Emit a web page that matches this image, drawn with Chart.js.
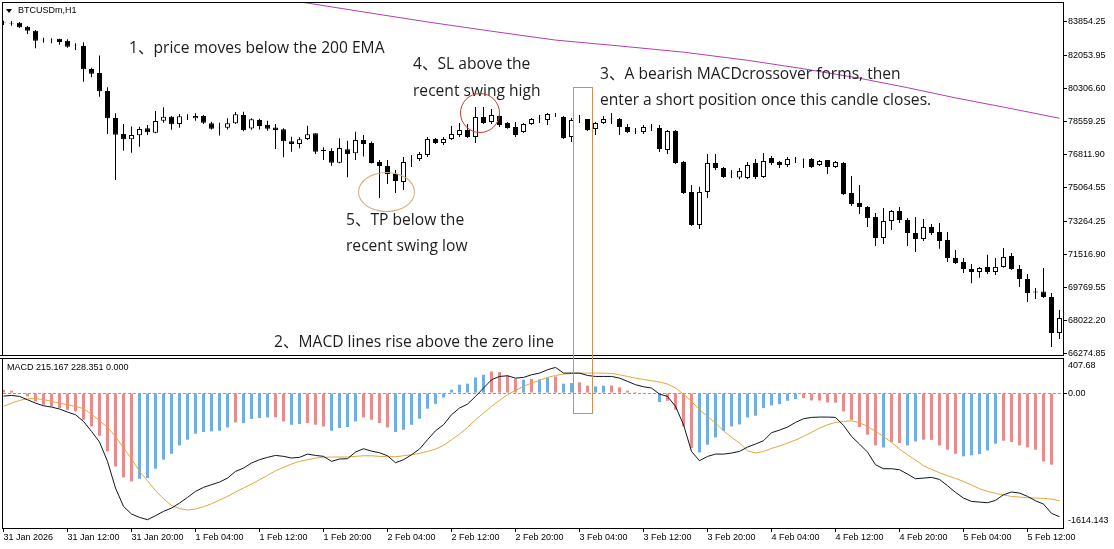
<!DOCTYPE html>
<html>
<head>
<meta charset="utf-8">
<script src="https://cdn.jsdelivr.net/npm/chart.js@4.4.1/dist/chart.umd.min.js"></script>
<style>
  body { margin: 0; background: #fff; width: 1114px; height: 549px; overflow: hidden; position: relative; }
  canvas { position: absolute; left: 0; }
  #price { top: 0; }
  #macd { top: 357px; }
  .note { position: absolute; font-family: "Open Sans", "Noto Sans CJK SC", sans-serif; font-size: 15.6px; line-height: 20px; color: #1c1c1c; white-space: nowrap; }
  .small { position: absolute; font-family: "Liberation Sans", Arial, sans-serif; font-size: 9px; line-height: 11px; color: #000; white-space: nowrap; }
  .shape { position: absolute; box-sizing: border-box; }
  #tri { position: absolute; left: 6px; top: 9px; width: 0; height: 0; border-left: 3px solid transparent; border-right: 3px solid transparent; border-top: 4px solid #000; }
</style>
</head>
<body>
<canvas id="price" width="1114" height="362"></canvas>
<canvas id="macd" width="1114" height="192"></canvas>

<div id="tri"></div>
<div class="small" style="left:18px;top:5px">BTCUSDm,H1</div>
<div class="small" style="left:7px;top:362px">MACD 215.167 228.351 0.000</div>

<div class="note" style="left:129px;top:37px">1、price moves below the 200 EMA</div>
<div class="note" style="left:413px;top:53px">4、SL above the</div>
<div class="note" style="left:413px;top:80px">recent swing high</div>
<div class="note" style="left:600px;top:63px">3、A bearish MACDcrossover forms, then</div>
<div class="note" style="left:600px;top:89px">enter a short position once this candle closes.</div>
<div class="note" style="left:346px;top:209px">5、TP below the</div>
<div class="note" style="left:346px;top:235px">recent swing low</div>
<div class="note" style="left:274px;top:331px">2、MACD lines rise above the zero line</div>

<div class="shape" style="left:460px;top:93px;width:40px;height:40px;border:1px solid #c83c32;border-radius:50%"></div>
<div class="shape" style="left:358px;top:172px;width:57px;height:40px;border:1px solid #d9a878;border-radius:50%"></div>
<div class="shape" style="left:573px;top:87px;width:20px;height:327px;border:1px solid #d48c50"></div>

<script>
// x axis: one H1 bar per step, bar 0 = 31 Jan 04:00
const timeTicks = ['31 Jan 2026', '31 Jan 12:00', '31 Jan 20:00', '1 Feb 04:00', '1 Feb 12:00', '1 Feb 20:00',
  '2 Feb 04:00', '2 Feb 12:00', '2 Feb 20:00', '3 Feb 04:00', '3 Feb 12:00', '3 Feb 20:00',
  '4 Feb 04:00', '4 Feb 12:00', '4 Feb 20:00', '5 Feb 04:00', '5 Feb 12:00'];
const priceTicks = [83854.25, 82053.95, 80306.60, 78559.25, 76811.90, 75064.55, 73264.25, 71516.90, 69769.55, 68022.20, 66274.85];
const macdTicks = ['407.68', '0.00', '-1614.143'];

const opens = [83800, 83770, 83790, 83579, 83367, 82885, 82900, 82944, 82838, 82580, 82557, 81340, 81128, 80175, 78745, 77900, 77617, 77830, 78199, 77966,
  78603, 78814, 78430, 78790, 78730, 78850, 78460, 78255, 78226, 78460, 78904, 78190, 78639, 78390, 78235, 78145, 77510, 77370, 77635, 77935,
  77050, 76995, 76380, 77085, 76875, 77580, 77420, 76410, 76200, 75780, 75355, 76510, 76575, 76786, 77633, 77420, 77633, 77845, 78110, 77740,
  78800, 78535, 78850, 78480, 78270, 78000, 78430, 78735, 78639, 78900, 78800, 77740, 78740, 78690, 78160, 78480, 78680, 78690, 78270, 78010,
  78000, 78260, 78215, 77050, 78055, 76410, 74830, 73080, 74830, 76360, 76100, 75825, 75600, 75570, 76360, 75620, 76630, 76410, 76257, 76570,
  76580, 76575, 76257, 76520, 76150, 76360, 74775, 74245, 74030, 73500, 72390, 73290, 73820, 73345, 72660, 72340, 72975, 72710, 72280, 71330,
  71120, 70750, 70590, 70860, 70590, 70860, 71440, 70750, 70220, 69500, 69560, 69270, 67360];
const highs = [83897, 83881, 83828, 83616, 83404, 82996, 82965, 82944, 82910, 82700, 82756, 81410, 82060, 80370, 78993, 78428, 78296, 78287, 78375, 79116,
  79311, 78850, 78957, 78940, 78993, 78904, 78549, 78490, 78725, 79063, 79080, 78725, 78710, 78600, 78428, 78200, 77757, 77720, 78340, 77935,
  77190, 77140, 77668, 77540, 78020, 77845, 77500, 76522, 76522, 75990, 76680, 76786, 76945, 77740, 77685, 77740, 78320, 78480, 78430, 79327,
  79327, 79220, 78904, 78535, 78535, 78480, 78745, 78904, 79010, 79010, 78850, 78745, 78904, 78690, 78535, 78850, 79010, 78745, 78430, 78215,
  78375, 78430, 78375, 78110, 78110, 76470, 75200, 75100, 76840, 76840, 76150, 75990, 76100, 76420, 76570, 76890, 76735, 76470, 76680, 76680,
  76600, 76630, 76520, 76520, 76470, 76420, 75680, 75200, 74080, 73710, 73980, 73875, 74030, 73450, 73500, 73400, 73130, 73185, 72710, 71760,
  71330, 71020, 70850, 71500, 71330, 71860, 71600, 70960, 70490, 69740, 70800, 69480, 68580];
const lows = [83669, 83632, 83510, 83193, 82433, 82731, 82700, 82627, 82468, 82345, 80660, 80900, 79870, 77898, 75463, 77015, 76908, 77227, 77845, 77932,
  78496, 78126, 78232, 78639, 78602, 78427, 78142, 77824, 78142, 78427, 78040, 78120, 78142, 78075, 77105, 76665, 76960, 77140, 77580, 76840,
  76522, 76220, 76345, 75605, 76522, 76700, 76330, 74510, 75250, 74775, 74933, 76150, 76470, 76680, 77370, 77316, 77580, 77740, 77685, 77420,
  78430, 78430, 78270, 78180, 77740, 77950, 78375, 78480, 78375, 78800, 77630, 77475, 78480, 78050, 77845, 78430, 78430, 77845, 77950, 77900,
  77900, 78055, 76945, 76840, 76310, 74720, 73030, 72870, 74510, 75990, 75570, 75570, 75500, 75520, 75510, 75570, 76257, 76100, 76150, 76360,
  76100, 76100, 76200, 75780, 76100, 74670, 74080, 73660, 72970, 71970, 72075, 72816, 73190, 71970, 71650, 72230, 72550, 71815, 71120, 71020,
  70540, 69990, 70280, 70490, 70430, 70820, 70700, 69800, 69000, 69160, 69220, 66620, 67040];
const closes = [83780, 83750, 83547, 83367, 82838, 82865, 82920, 82769, 82520, 82565, 81323, 81090, 80160, 78730, 77860, 77617, 77845, 78163, 77987, 78586,
  78814, 78412, 78835, 78775, 78850, 78496, 78174, 78240, 78460, 78941, 78110, 78675, 78322, 78180, 78110, 77520, 77370, 77615, 77880, 76963,
  76995, 76380, 77156, 76840, 77580, 77368, 76360, 76200, 75780, 75410, 76415, 76535, 76840, 77633, 77420, 77633, 77900, 78110, 77740, 78800,
  78480, 78904, 78375, 78215, 77845, 78430, 78690, 78755, 78957, 78910, 77690, 78639, 78750, 78110, 78480, 78690, 78700, 78270, 78000, 78000,
  78270, 78275, 77100, 78055, 76360, 74775, 73080, 74830, 76360, 76100, 75620, 75845, 75940, 76257, 75620, 76470, 76360, 76257, 76575, 76585,
  76565, 76150, 76470, 76150, 76420, 74720, 74190, 74030, 73450, 72390, 73290, 73820, 73345, 72660, 72340, 72975, 72660, 72230, 71330, 71070,
  70750, 70590, 70800, 70590, 70860, 71390, 70750, 70220, 69480, 69560, 69270, 67360, 68150];

// 200 EMA, read where it crosses into the window and along its path
const emaBars = [0, 20, 30, 38, 45, 53, 61, 69, 77, 85, 93, 100, 107, 113, 119, 126, 132];
const emaValues = [87300, 86050, 85360, 84830, 84360, 83830, 83340, 82870, 82560, 82230, 81800, 81350, 80850, 80350, 79810, 79240, 78730];

const histogram = [40, 28, -8, -40, -100, -140, -160, -180, -200, -219, -319, -399, -510, -698, -877, -1009, -1057, -1025, -1017, -905,
  -797, -726, -626, -558, -486, -466, -458, -450, -411, -351, -360, -309, -299, -291, -288, -339, -379, -370, -359, -379,
  -399, -450, -418, -406, -339, -291, -319, -359, -411, -466, -439, -379, -307, -187, -128, -52, 40, 100, 112, 187,
  219, 259, 251, 211, 171, 160, 171, 165, 187, 199, 112, 120, 128, 88, 80, 88, 90, 68, 28, 12,
  -2, -8, -108, -92, -199, -399, -658, -710, -618, -530, -451, -399, -375, -291, -271, -179, -148, -132, -92, -72,
  -60, -88, -90, -112, -114, -219, -319, -407, -498, -626, -650, -586, -598, -626, -578, -558, -560, -626, -678, -726,
  -757, -745, -730, -686, -606, -570, -586, -626, -650, -678, -817, -857];
const histColors = ('rrrrrrrrrrrrrrrrrbbbbbbbbbbbbrbbbbrrbbrrrbbbbrrrrbbbbbbbbbbbbrrrrbrbbrbbrrbbrrrrrrbrrrr' +
  'bbbbbbbbbbbbbrrrrrrrrrrbrrbbrrrrrbbbbbrrrrrrr').split('');
const macdLine = [-36, -28, -40, -80, -120, -152, -167, -191, -227, -259, -339, -458, -586, -817, -1136, -1356, -1447, -1487, -1515, -1467,
  -1415, -1376, -1316, -1248, -1176, -1128, -1096, -1065, -1017, -937, -897, -837, -797, -769, -746, -757, -777, -769, -730, -746,
  -757, -817, -789, -785, -706, -666, -694, -714, -750, -833, -797, -738, -670, -558, -451, -379, -259, -179, -132, -40,
  60, 159, 199, 207, 179, 187, 219, 239, 279, 307, 239, 239, 239, 211, 199, 199, 199, 179, 140, 100,
  76, 60, -12, -40, -159, -379, -698, -809, -758, -730, -730, -718, -698, -646, -610, -570, -474, -443, -407, -351,
  -307, -291, -287, -287, -291, -387, -518, -610, -706, -857, -905, -905, -917, -969, -1025, -1017, -1009, -1033, -1108, -1188,
  -1256, -1296, -1304, -1312, -1284, -1216, -1184, -1196, -1236, -1288, -1328, -1439, -1479];
const signalLine = [-159, -120, -88, -68, -68, -76, -100, -120, -140, -159, -187, -251, -331, -411, -518, -658, -785, -937, -1049, -1168,
  -1264, -1344, -1383, -1399, -1387, -1360, -1324, -1280, -1236, -1184, -1136, -1088, -1037, -985, -929, -889, -849, -817, -797, -777,
  -769, -765, -765, -765, -757, -750, -750, -757, -761, -761, -750, -738, -722, -698, -670, -626, -558, -490, -411, -319,
  -239, -159, -88, -20, 32, 80, 120, 152, 187, 211, 227, 235, 239, 239, 239, 239, 235, 219, 199, 179,
  163, 148, 132, 108, 60, -12, -100, -199, -279, -359, -451, -530, -598, -690, -718, -698, -662, -634, -598, -562,
  -518, -470, -419, -379, -351, -339, -331, -355, -399, -458, -518, -590, -670, -738, -801, -869, -913, -953, -989, -1021,
  -1057, -1100, -1144, -1176, -1200, -1220, -1236, -1244, -1252, -1256, -1260, -1268, -1288];

const font = { family: 'Liberation Sans', size: 9 };
const xMin = -0.0625, xMax = 132.4375;

// black box round each plot area, window separator under / over it
const frame = {
  id: 'frame',
  afterDatasetsDraw(chart, args, opts) {
    const { ctx, chartArea: a } = chart;
    ctx.save();
    ctx.strokeStyle = '#000';
    ctx.lineWidth = 1;
    ctx.strokeRect(a.left - 0.5, a.top - 0.5, a.right - a.left + 1, a.bottom - a.top + 1);
    ctx.beginPath();
    if (opts.sep === 'bottom') { ctx.moveTo(0, a.bottom + 0.5); ctx.lineTo(a.right + 1, a.bottom + 0.5); }
    if (opts.sep === 'top') { ctx.moveTo(0, a.top - 0.5); ctx.lineTo(a.right + 1, a.top - 0.5); }
    ctx.stroke();
    ctx.restore();
  }
};

function fixWidth(s) { s.width = 51; s.paddingTop = 0; s.paddingBottom = 0; }

const bodyColors = closes.map((c, i) => c >= opens[i] ? '#fff' : '#000');

new Chart(document.getElementById('price'), {
  type: 'bar',
  data: {
    datasets: [
      {
        type: 'line', data: emaBars.map((b, i) => ({ x: b, y: emaValues[i] })),
        borderColor: '#b43cb4', borderWidth: 1, pointRadius: 0, tension: 0, order: 0
      },
      {
        data: opens.map((o, i) => ({ x: i, y: [o, closes[i]] })),
        backgroundColor: bodyColors, borderColor: '#000', borderWidth: 1, borderSkipped: false,
        barThickness: 5, grouped: false, inflateAmount: 0, order: 1
      },
      {
        data: lows.map((l, i) => ({ x: i, y: [l, highs[i]] })),
        backgroundColor: '#000', borderWidth: 0, barThickness: 1, grouped: false, inflateAmount: 0, order: 2
      }
    ]
  },
  options: {
    responsive: false, animation: false, events: [],
    layout: { padding: { left: 3, top: 3, right: 0, bottom: 7 } },
    plugins: { legend: { display: false }, tooltip: { enabled: false }, frame: { sep: 'bottom' } },
    scales: {
      x: { type: 'linear', min: xMin, max: xMax, offset: false, grid: { offset: false }, display: false },
      y: {
        position: 'right', min: 66195.4, max: 84833.8,
        afterBuildTicks: s => { s.ticks = priceTicks.map(v => ({ value: v })); },
        afterFit: fixWidth,
        ticks: { font, color: '#000', padding: 1, callback: (v, i) => priceTicks[i].toFixed(2) },
        grid: { drawOnChartArea: false, tickLength: 4, tickColor: '#000' },
        border: { display: false }
      }
    }
  },
  plugins: [frame]
});

new Chart(document.getElementById('macd'), {
  type: 'bar',
  data: {
    datasets: [
      {
        type: 'line', data: macdLine.map((v, i) => ({ x: i, y: v })),
        borderColor: '#0a1620', borderWidth: 1, pointRadius: 0, tension: 0, order: 0
      },
      {
        type: 'line', data: signalLine.map((v, i) => ({ x: i, y: v })),
        borderColor: '#e2a63c', borderWidth: 1, pointRadius: 0, tension: 0, order: 1
      },
      {
        data: histogram.map((v, i) => ({ x: i, y: v })),
        backgroundColor: histColors.map(c => c === 'b' ? '#6eaee4' : '#ea8a8a'),
        borderWidth: 0, barThickness: 3, grouped: false, inflateAmount: 0, order: 2
      }
    ]
  },
  options: {
    responsive: false, animation: false, events: [],
    layout: { padding: { left: 3, top: 2, right: 0, bottom: 0 } },
    plugins: { legend: { display: false }, tooltip: { enabled: false }, frame: { sep: 'top' } },
    scales: {
      x: {
        type: 'linear', min: xMin, max: xMax, offset: false,
        afterBuildTicks: s => { s.ticks = timeTicks.map((t, i) => ({ value: i * 8 })); },
        afterFit: s => { s.height = 21; s.paddingLeft = 0; s.paddingRight = 0; },
        ticks: { font, color: '#000', padding: 0, align: 'start', autoSkip: false, maxRotation: 0, minRotation: 0,
          callback: (v, i) => timeTicks[i] },
        grid: { offset: false, drawOnChartArea: false, tickLength: 4, tickColor: '#000' },
        border: { display: false }
      },
      y: {
        position: 'right', min: -1614.143, max: 407.68,
        afterBuildTicks: s => { s.ticks = [327, 0, -1527].map(v => ({ value: v })); },
        afterFit: fixWidth,
        ticks: { font, color: '#000', padding: 1, callback: (v, i) => macdTicks[i] },
        grid: {
          drawOnChartArea: true, tickLength: 4,
          color: c => c.tick && c.tick.value === 0 ? '#9a9a9a' : 'rgba(0,0,0,0)',
          tickColor: c => c.tick && c.tick.value === 0 ? '#000' : 'rgba(0,0,0,0)'
        },
        border: { display: false, dash: [3, 2] }
      }
    }
  },
  plugins: [frame]
});
</script>
</body>
</html>
